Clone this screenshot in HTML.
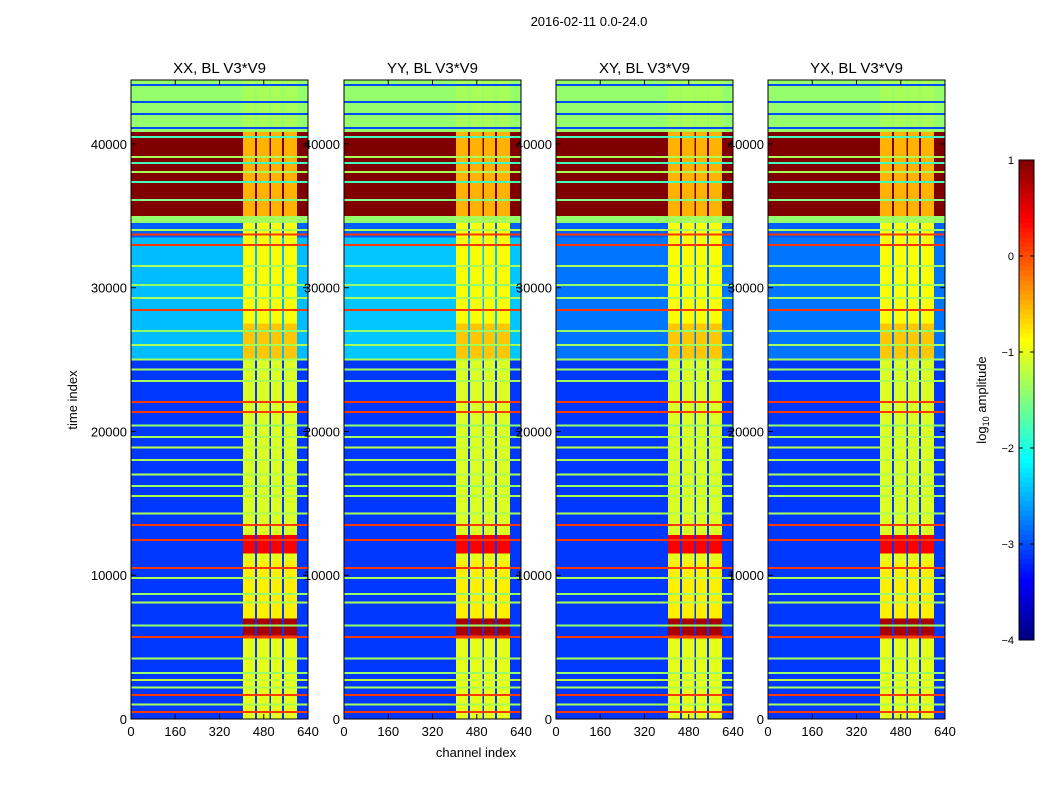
<!DOCTYPE html>
<html><head><meta charset="utf-8"><style>
body{margin:0;background:#fff;}
svg{font-family:"Liberation Sans","DejaVu Sans",sans-serif;}
</style></head><body>
<svg id="fig" width="1050" height="800" viewBox="0 0 1050 800" xmlns="http://www.w3.org/2000/svg">
<rect width="1050" height="800" fill="#fff"/>
<text x="589" y="26" font-size="13" text-anchor="middle">2016-02-11 0.0-24.0</text>
<text x="476" y="757" font-size="13" text-anchor="middle">channel index</text>
<text x="77" y="400" font-size="13" text-anchor="middle" transform="rotate(-90 77 400)">time index</text>
<g id="panels"></g>
<g id="cbar"></g>
<text x="986" y="400" font-size="13" text-anchor="middle" transform="rotate(-90 986 400)">log<tspan font-size="9" dy="3">10</tspan><tspan dy="-3"> amplitude</tspan></text>
</svg>
<script>
// ---- data ----
const panelTitles = ["XX, BL V3*V9","YY, BL V3*V9","XY, BL V3*V9","YX, BL V3*V9"];
const xTicks = [0,160,320,480,640];
const yTicks = [0,10000,20000,30000,40000];
const cbTicks = [1,0,-1,-2,-3,-4];
// background bands: [tStart, tEnd, log10 amplitude]
const bgBands = [[0,25000,-3.1],[25000,33500,-2.5],[33500,34500,-2.9],[34500,35000,-1.4],[35000,40850,1.0],[40850,44450,-1.4]];
// mid-region level per panel (25000-33500)
const midLevel = [-2.45,-2.4,-2.8,-2.8];
// RFI strips: channel ranges
const rfiStrips = [[405,448],[456,500],[506,546],[554,600]];
// RFI level by time: [tStart,tEnd,value]
const rfiBands = [[0,5600,-1.0],[5600,5800,0.1],[5800,7000,0.8],[7000,11000,-0.8],[11000,11500,-1.0],[11500,12800,0.4],[12800,25000,-1.05],[25000,27500,-0.6],[27500,34500,-0.9],[34500,35000,-1.3],[35000,40850,-0.5],[40850,44450,-1.3]];
// horizontal lines: [time, value]
const lines = [[490,0.1],[1000,-1.3],[1670,0.1],[2200,-1.3],[2700,-1.2],[3200,-1.4],[4200,-1.3],[5700,0.1],[6500,-1.4],[8100,-1.3],[8700,-1.4],[9800,-1.3],[10500,0.1],[12450,0.1],[13500,0.1],[14300,-1.3],[15500,-1.3],[16200,-1.4],[17000,-1.3],[18000,-1.3],[18900,-1.2],[19600,-1.3],[20400,-1.4],[21360,0.1],[22050,0.1],[23500,-1.3],[24300,-1.3],[25000,-1.3],[26000,-1.3],[27000,-1.4],[28450,0.1],[29300,-1.3],[30200,-1.4],[31500,-1.3],[32970,0.1],[33700,0.1],[34000,-1.3],[36100,-1.5],[37360,-1.8],[38050,-1.3],[38680,-1.8],[39100,-1.3],[40490,-1.8],[41110,-3.0],[42090,-3.0],[42920,-3.0],[44100,-3.0]];
const panelX = [131,344,556,768];
// ---- geometry ----
const PW=177, Y0=719, YT=80, TMAX=44450, CMAX=640;
const yS = t => Y0 - t/TMAX*(Y0-YT);
function jet(v){ // v in [-4,1]
  let x=Math.max(0,Math.min(1,(v+4)/5));
  const f=c=>Math.round(255*Math.max(0,Math.min(1,1.5-Math.abs(4*x-c))));
  return `rgb(${f(3)},${f(2)},${f(1)})`;
}
const NS="http://www.w3.org/2000/svg";
function mk(tag,attrs,parent){const e=document.createElementNS(NS,tag);for(const k in attrs)e.setAttribute(k,attrs[k]);parent.appendChild(e);return e;}
const panels=document.getElementById('panels');
panelX.forEach((px,p)=>{
  const xS=c=>px+c/CMAX*PW;
  const g=mk('g',{'shape-rendering':'crispEdges'},panels);
  
  
  bgBands.forEach(b=>{
    const v=(b[0]===25000)?midLevel[p]:b[2];
    const r=mk('rect',{x:xS(0),y:yS(b[1]),width:PW,height:yS(b[0])-yS(b[1]),fill:jet(v)},g);
    
    
  });
  rfiStrips.forEach(s=>{
    rfiBands.forEach(b=>{
      const r=mk('rect',{x:xS(s[0]),y:yS(b[1]),width:xS(s[1])-xS(s[0]),height:yS(b[0])-yS(b[1]),fill:jet(b[2])},g);
      
      
    });
  });
  lines.forEach(l=>{
    const r=mk('rect',{x:xS(0),y:yS(l[0])-1,width:PW,height:2,fill:jet(l[1])},g);
    
    
  });
  const fr=mk('rect',{x:px,y:YT,width:PW,height:Y0-YT,fill:'none',stroke:'#000','stroke-width':1},g);
  
  
  const t=mk('text',{x:px+PW/2,y:73,'font-size':15,'text-anchor':'middle'},panels);
  t.textContent=panelTitles[p];
  
  
  xTicks.forEach(c=>{
    mk('line',{x1:xS(c),x2:xS(c),y1:Y0,y2:Y0-5,stroke:'#000'},panels);
    mk('line',{x1:xS(c),x2:xS(c),y1:YT,y2:YT+5,stroke:'#000'},panels);
    const l=mk('text',{x:xS(c),y:Y0+17,'font-size':13,'text-anchor':'middle'},panels);
    l.textContent=c;
    
    
  });
  yTicks.forEach(v=>{
    mk('line',{x1:px,x2:px+5,y1:yS(v),y2:yS(v),stroke:'#000'},panels);
    mk('line',{x1:px+PW,x2:px+PW-5,y1:yS(v),y2:yS(v),stroke:'#000'},panels);
    const l=mk('text',{x:px-4,y:yS(v)+5,'font-size':13,'text-anchor':'end'},panels);
    l.textContent=v;
    
    
  });
});
// colorbar
const cb=document.getElementById('cbar');
const CX=1019,CW=15,CT=160,CB=640;
const cs=v=>CB-(v+4)/5*(CB-CT);
for(let i=0;i<100;i++){
  const v0=-4+i*0.05;
  mk('rect',{x:CX,y:cs(v0+0.05),width:CW,height:cs(v0)-cs(v0+0.05)+0.6,fill:jet(v0+0.025),'shape-rendering':'crispEdges'},cb);
}
mk('rect',{x:CX,y:CT,width:CW,height:CB-CT,fill:'none',stroke:'#000'},cb);
cbTicks.forEach(v=>{
  mk('line',{x1:CX,x2:CX+4,y1:cs(v),y2:cs(v),stroke:'#000'},cb);
  mk('line',{x1:CX+CW,x2:CX+CW-4,y1:cs(v),y2:cs(v),stroke:'#000'},cb);
  const l=mk('text',{x:CX-5,y:cs(v)+4,'font-size':11,'text-anchor':'end'},cb);
  l.textContent=v<0?'\u2212'+(-v):v;
  
  
});
</script>
</body></html>
